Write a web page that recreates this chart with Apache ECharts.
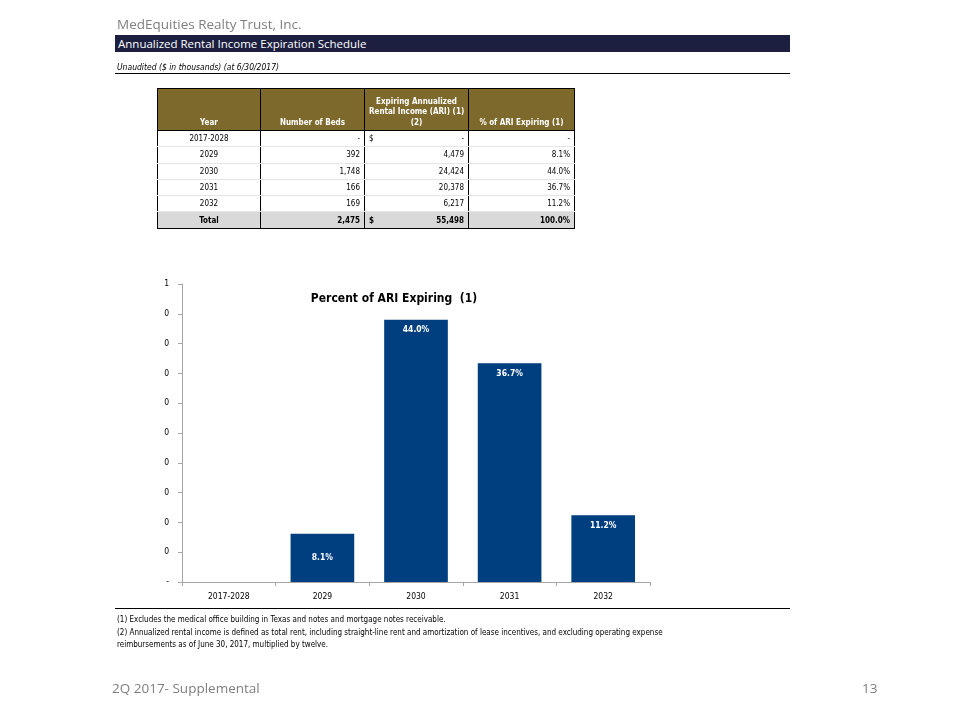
<!DOCTYPE html>
<html>
<head>
<meta charset="utf-8">
<script src="https://cdn.jsdelivr.net/npm/echarts@6/dist/echarts.min.js"></script>
<style>
  html, body { margin:0; padding:0; background:#fff; }
  #page { position:relative; width:960px; height:720px; overflow:hidden; font-family:"Liberation Sans Narrow","DejaVu Sans Condensed","Liberation Sans",Arial,sans-serif; }
  #chart { position:absolute; left:0; top:0; width:960px; height:720px; }
  .abs { position:absolute; white-space:nowrap; }
  #company { left:117px; top:15px; font-size:13.5px; color:#7f7f7f; font-family:"Open Sans","Liberation Sans",sans-serif; }
  #band { left:115px; top:35px; width:675px; height:17px; background:#1c1f40; color:#fff; font-size:11.5px; line-height:17px; padding-left:3px; box-sizing:border-box; font-family:"Open Sans","Liberation Sans",sans-serif; }
  #sub { left:117px; top:62px; font-size:8.5px; font-style:italic; color:#000; }
  #subline { left:115px; top:73px; width:675px; height:1px; background:#000; }
  table#tbl { position:absolute; left:157px; top:88px; border-collapse:collapse; table-layout:fixed; width:417px; font-size:8px; color:#000; }
  #tbl td, #tbl th { padding:0 4px; height:15.3px; line-height:15px; border-left:1px solid #000; border-right:1px solid #000; white-space:nowrap; overflow:visible; }
  #tbl th { background:#7d692b; color:#fff; font-weight:bold; vertical-align:bottom; height:39px; line-height:10.5px; padding-bottom:2px; border-top:1px solid #000; border-bottom:1px solid #000; text-align:center; }
  #tbl td { border-bottom:1px solid #e6e6e6; }
  #tbl tr.total td { background:#d9d9d9; font-weight:bold; border-top:1px solid #000; border-bottom:1px solid #000; }
  #tbl .c0 { text-align:center; }
  #tbl .c1 { text-align:right; }
  #tbl .c2 { text-align:right; position:relative; }
  #tbl .c3 { text-align:right; }
  .dollar { position:absolute; left:4px; }
  #footline { left:115px; top:608px; width:675px; height:1px; background:#000; }
  .fn { left:117px; font-size:8px; color:#000; }
  #foot { left:112px; top:679px; font-size:13.5px; color:#7f7f7f; font-family:"Open Sans","Liberation Sans",sans-serif; }
  #pg { left:862px; top:679px; font-size:13.5px; color:#7f7f7f; font-family:"Open Sans","Liberation Sans",sans-serif; }
</style>
</head>
<body>
<div id="page">
  <div id="chart"></div>
  <div class="abs" id="company">MedEquities Realty Trust, Inc.</div>
  <div class="abs" id="band">Annualized Rental Income Expiration Schedule</div>
  <div class="abs" id="sub">Unaudited ($ in thousands) (at 6/30/2017)</div>
  <div class="abs" id="subline"></div>
  <table id="tbl"></table>
  <div class="abs" id="footline"></div>
  <div class="abs fn" style="top:615px">(1) Excludes the medical office building in Texas and notes and mortgage notes receivable.</div>
  <div class="abs fn" style="top:628px">(2) Annualized rental income is defined as total rent, including straight-line rent and amortization of lease incentives, and excluding operating expense</div>
  <div class="abs fn" style="top:640px">reimbursements as of June 30, 2017, multiplied by twelve.</div>
  <div class="abs" id="foot">2Q 2017- Supplemental</div>
  <div class="abs" id="pg">13</div>
</div>
<script>
// ---- Data ----
var categories = ['2017-2028', '2029', '2030', '2031', '2032'];
var numberOfBeds = ['-', '392', '1,748', '166', '169'];
var expiringARI = ['-', '4,479', '24,424', '20,378', '6,217'];
var pctARIText = ['-', '8.1%', '44.0%', '36.7%', '11.2%'];
var pctARI = [0, 0.081, 0.440, 0.367, 0.112];
var totalBeds = '2,475';
var totalARI = '55,498';
var totalPct = '100.0%';

// ---- Table ----
var tbl = document.getElementById('tbl');
var html = '<colgroup><col style="width:103px"><col style="width:104px"><col style="width:104px"><col style="width:106px"></colgroup>' +
  '<tr><th class="c0">Year</th><th>Number of Beds</th>' +
  '<th>Expiring Annualized<br>Rental Income (ARI) (1)<br>(2)</th>' +
  '<th>% of ARI Expiring (1)</th></tr>';
for (var i = 0; i < categories.length; i++) {
  html += '<tr><td class="c0">' + categories[i] + '</td><td class="c1">' + numberOfBeds[i] + '</td>' +
    '<td class="c2">' + (i === 0 ? '<span class="dollar">$</span>' : '') + expiringARI[i] + '</td>' +
    '<td class="c3">' + pctARIText[i] + '</td></tr>';
}
html += '<tr class="total"><td class="c0">Total</td><td class="c1">' + totalBeds + '</td>' +
  '<td class="c2"><span class="dollar">$</span>' + totalARI + '</td><td class="c3">' + totalPct + '</td></tr>';
tbl.innerHTML = html;

// ---- Chart ----
var chart = echarts.init(document.getElementById('chart'), null, {renderer: 'canvas'});
var fontFam = '"Liberation Sans Narrow","DejaVu Sans Condensed","Liberation Sans",sans-serif';
chart.setOption({
  animation: false,
  title: {
    text: 'Percent of ARI Expiring  (1)',
    left: 389, top: 288, textAlign: 'center',
    textStyle: { fontSize: 12, fontWeight: 'bold', color: '#000', fontFamily: fontFam }
  },
  grid: { left: 182, right: 310, top: 284, bottom: 138, containLabel: false },
  xAxis: {
    type: 'category',
    data: categories,
    axisLine: { lineStyle: { color: '#a6a6a6' } },
    axisTick: { show: true, alignWithLabel: false, length: 4, lineStyle: { color: '#a6a6a6' } },
    axisLabel: { color: '#000', fontSize: 8.5, margin: 10, fontFamily: fontFam }
  },
  yAxis: {
    type: 'value',
    min: 0, max: 0.5, interval: 0.05,
    splitLine: { show: false },
    axisLine: { show: true, lineStyle: { color: '#a6a6a6' } },
    axisTick: { show: true, length: 4, lineStyle: { color: '#a6a6a6' } },
    axisLabel: {
      color: '#000', fontSize: 8.5, margin: 13, fontFamily: fontFam,
      formatter: function (v) { return v === 0 ? '-' : String(Math.round(v)); }
    }
  },
  series: [{
    type: 'bar',
    barWidth: '68%',
    itemStyle: { color: '#003f7f' },
    data: pctARI.map(function (v) {
      return { value: v, label: { position: v < 0.1 ? 'inside' : 'insideTop', distance: 6 } };
    }),
    label: {
      show: true, color: '#fff', fontSize: 8.5, fontWeight: 'bold', fontFamily: fontFam,
      formatter: function (p) { return p.value ? (p.value * 100).toFixed(1) + '%' : ''; }
    }
  }]
});
</script>
</body>
</html>
